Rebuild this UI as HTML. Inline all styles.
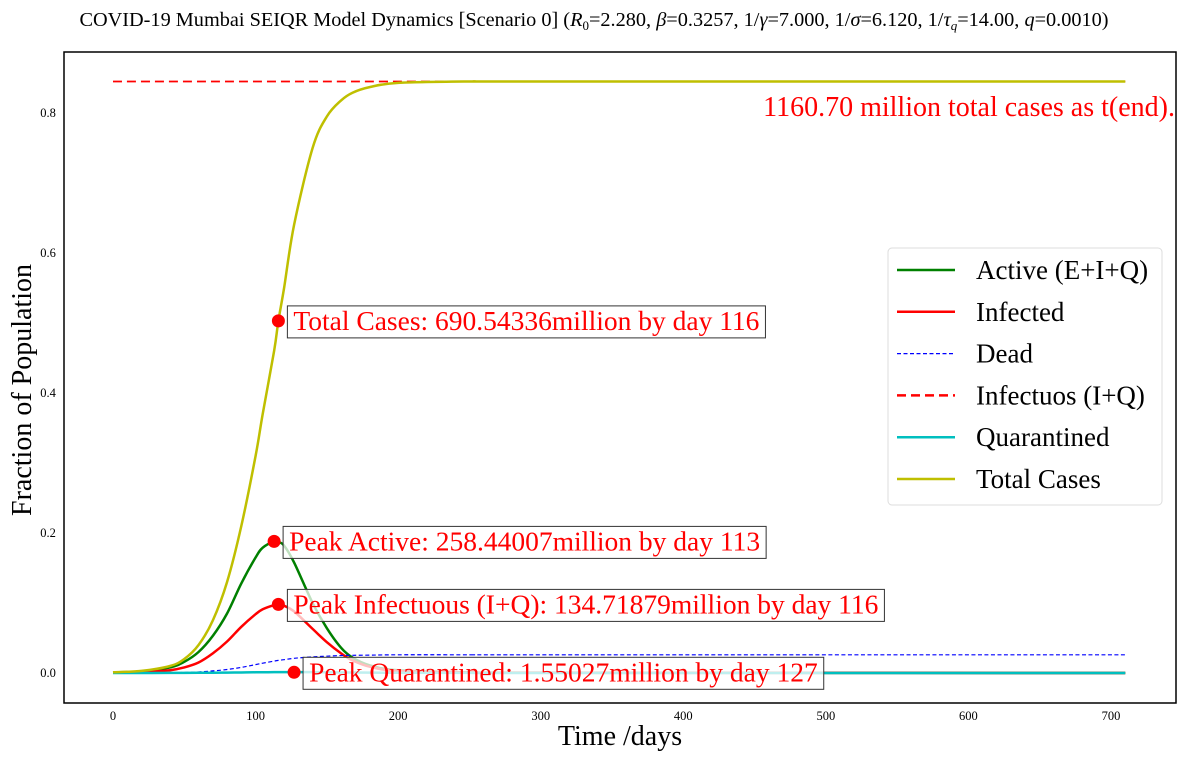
<!DOCTYPE html>
<html><head><meta charset="utf-8">
<style>
body{margin:0;background:#fff;}
svg{display:block;font-family:"Liberation Serif",serif;}
</style></head>
<body>
<svg id="chart" width="1188" height="760" viewBox="0 0 1188 760" xmlns="http://www.w3.org/2000/svg">
<text x="594" y="26" text-anchor="middle" font-size="20.3">COVID-19 Mumbai SEIQR Model Dynamics [Scenario 0] (<tspan font-style="italic">R</tspan><tspan font-size="13" dy="4">0</tspan><tspan dy="-4">=2.280, </tspan><tspan font-style="italic">β</tspan>=0.3257, 1/<tspan font-style="italic">γ</tspan>=7.000, 1/<tspan font-style="italic">σ</tspan>=6.120, 1/<tspan font-style="italic">τ</tspan><tspan font-size="13" dy="4" font-style="italic">q</tspan><tspan dy="-4">=14.00, </tspan><tspan font-style="italic">q</tspan>=0.0010)</text>
<g id="plot"></g>
</svg>
<script>
const xTicks=[0,100,200,300,400,500,600,700];
const yTicks=[0.0,0.2,0.4,0.6,0.8];
const days=[0,20,40,50,60,70,80,90,100,105,113,116,120,127,140,150,160,168,180,200,250,300,710];
const totalCases=[0.001,0.003,0.01,0.02,0.04,0.075,0.13,0.21,0.31,0.37,0.46,0.503,0.55,0.64,0.75,0.795,0.818,0.829,0.837,0.843,0.845,0.845,0.845];
const active=[0.001,0.002,0.008,0.016,0.03,0.053,0.085,0.128,0.165,0.179,0.188,0.187,0.182,0.158,0.1,0.064,0.036,0.022,0.011,0.004,0.001,0.0005,0.0];
const infected=[0.001,0.0015,0.004,0.008,0.015,0.028,0.045,0.066,0.084,0.091,0.097,0.098,0.096,0.088,0.063,0.044,0.028,0.018,0.009,0.003,0.0008,0.0003,0.0];
const dead=[0,0,0.0003,0.0008,0.0015,0.003,0.005,0.008,0.012,0.014,0.017,0.018,0.019,0.021,0.023,0.024,0.025,0.0253,0.0255,0.026,0.026,0.026,0.026];
const quarantined=[0,0,0.0001,0.0002,0.0003,0.0004,0.0006,0.0008,0.001,0.0011,0.0012,0.0013,0.0013,0.0013,0.0012,0.001,0.0008,0.0007,0.0005,0.0003,0.0001,0.0,0.0];
const infectiousLine=[0.845,0.845];
const infectiousDays=[0,710];
const peakDays=[116,113,116,127];
const peakVals=[0.503,0.188,0.098,0.001];
const peakLabels=["Total Cases: 690.54336million by day 116","Peak Active: 258.44007million by day 113","Peak Infectuous (I+Q): 134.71879million by day 116","Peak Quarantined: 1.55027million by day 127"];

const L=64,R=1176,T=52,B=703;
const X=d=>113+d*1.4257;
const Y=v=>673-v*700;
const NS="http://www.w3.org/2000/svg";
const g=document.getElementById('plot');
function mk(tag,attrs){const e=document.createElementNS(NS,tag);for(const k in attrs)e.setAttribute(k,attrs[k]);return e;}
function smooth(xs,ys){
  const p=xs.map((d,i)=>[X(d),Y(ys[i])]);
  let s=`M${p[0][0]},${p[0][1]}`;
  for(let i=0;i<p.length-1;i++){
    const p0=p[i-1]||p[i],p1=p[i],p2=p[i+1],p3=p[i+2]||p2;
    const c1=[p1[0]+(p2[0]-p0[0])/6,p1[1]+(p2[1]-p0[1])/6];
    const c2=[p2[0]-(p3[0]-p1[0])/6,p2[1]-(p3[1]-p1[1])/6];
    s+=` C${c1[0]},${c1[1]} ${c2[0]},${c2[1]} ${p2[0]},${p2[1]}`;
  }
  return s;
}
const frame=mk('rect',{x:L,y:T,width:R-L,height:B-T,fill:'none',stroke:'#000','stroke-width':1.5});


g.appendChild(frame);
xTicks.forEach(t=>{
  const tx=mk('text',{x:X(t),y:720,'text-anchor':'middle','font-size':12.5});
  tx.textContent=t;
  
  
  g.appendChild(tx);
});
yTicks.forEach(t=>{
  const tx=mk('text',{x:48,y:Y(t)+4,'text-anchor':'middle','font-size':12.5});
  tx.textContent=t.toFixed(1);
  
  
  g.appendChild(tx);
});
const xt=mk('text',{x:620,y:745,'text-anchor':'middle','font-size':28});
xt.textContent='Time /days';


g.appendChild(xt);
const yt=mk('text',{x:0,y:0,'text-anchor':'middle','font-size':28,transform:'translate(31,390) rotate(-90)'});
yt.textContent='Fraction of Population';


g.appendChild(yt);

function line(xs,ys,color,w,dash,name){
  const p=mk('path',{d:smooth(xs,ys),fill:'none',stroke:color,'stroke-width':w});
  if(dash)p.setAttribute('stroke-dasharray',dash);
  
  
  g.appendChild(p);
}
line(infectiousDays,infectiousLine,'#ff0000',1.8,'9,5','infectious-line');
line(days,active,'#008000',2.5,null,'active-line');
line(days,infected,'#ff0000',2.5,null,'infected-line');
line(days,dead,'#0000ff',1.2,'4,2.5','dead-line');
line(days,quarantined,'#00bfbf',2.5,null,'quarantined-line');
line(days,totalCases,'#bfbf00',2.5,null,'total-cases-line');

const te=mk('text',{x:1175,y:116,'text-anchor':'end','font-size':28,fill:'#ff0000'});
te.textContent='1160.70 million total cases as t(end).';


g.appendChild(te);

peakDays.forEach((d,i)=>{
  const cx=X(d),cy=Y(peakVals[i]);
  const c=mk('circle',{cx:cx,cy:cy,r:6.5,fill:'#ff0000'});
  
  
  g.appendChild(c);
  const tx=mk('text',{x:cx+15,y:cy+9,'font-size':27.5,fill:'#ff0000'});
  tx.textContent=peakLabels[i];
  
  
  g.appendChild(tx);
  const bb=tx.getBBox();
  const box=mk('rect',{x:cx+9,y:cy-15,width:bb.width+12,height:32,fill:'rgba(255,255,255,0.75)',stroke:'#333','stroke-width':1});
  
  
  g.insertBefore(box,tx);
});

const lg=mk('g',{});


g.appendChild(lg);
lg.appendChild(mk('rect',{x:888,y:248,width:274,height:257,rx:4,fill:'#fff',stroke:'#ddd','stroke-width':1}));
const items=[['Active (E+I+Q)','#008000',2.5,null],['Infected','#ff0000',2.5,null],['Dead','#0000ff',1.2,'4,2.5'],['Infectuos (I+Q)','#ff0000',2.5,'9,5'],['Quarantined','#00bfbf',2.5,null],['Total Cases','#bfbf00',2.5,null]];
items.forEach((it,i)=>{
  const y=270+i*41.8;
  const e=mk('g',{});
  
  
  const ln=mk('line',{x1:897,x2:955,y1:y,y2:y,stroke:it[1],'stroke-width':it[2]});
  if(it[3])ln.setAttribute('stroke-dasharray',it[3]);
  e.appendChild(ln);
  const t=mk('text',{x:976,y:y+9,'font-size':27});
  t.textContent=it[0];
  e.appendChild(t);
  lg.appendChild(e);
});
</script>
</body></html>
